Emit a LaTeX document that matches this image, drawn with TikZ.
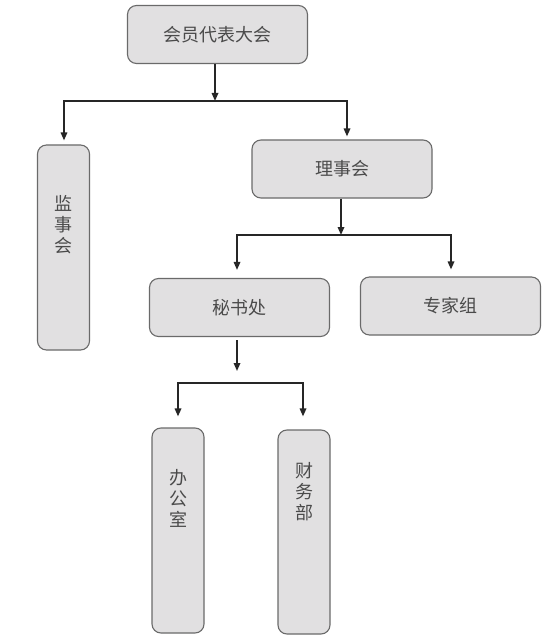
\documentclass[tikz,border=0pt]{standalone}
\usepackage{fontspec}
\newfontfamily\cjk{Noto Sans CJK SC}
\usetikzlibrary{arrows.meta}

\definecolor{boxfill}{HTML}{E1E0E1}
\definecolor{boxline}{HTML}{6A6A6A}
\definecolor{textgray}{HTML}{4A4A4A}

\tikzset{
  unit/.style={draw=boxline, fill=boxfill, rounded corners=9pt, line width=1.1pt,
    text=textgray, font=\cjk\fontsize{18}{21}\selectfont, inner sep=0pt},
  wide/.style={unit, minimum width=180pt, minimum height=58pt},
  tall/.style={unit, minimum width=52pt},
  link/.style={line width=1.6pt, draw=black!85},
  arrow/.style={link, -{Triangle[length=8pt,width=6.5pt]}},
}

\begin{document}
\begin{tikzpicture}[x=1pt, y=-1pt]

  \newcommand\vtxt[3]{\parbox[c][#2][t]{24pt}{\centering\vspace*{#1}#3}}

  \useasboundingbox (0,0) rectangle (550,639);

  %% boxes
  \node[wide] (dbdh) at (217.5,34.5) {会员代表大会};
  \node[tall] (jsh) at (63.5,247.5) {\vtxt{50pt}{205pt}{监\\事\\会}};
  \node[wide] (lsh) at (342,169) {理事会};
  \node[wide] (msc) at (239.5,307.5) {秘书处};
  \node[wide] (zjz) at (450.5,306) {专家组};
  \node[tall] (bgs) at (178,530.5) {\vtxt{41pt}{205pt}{办\\公\\室}};
  \node[tall] (cwb) at (304,532) {\vtxt{32pt}{204pt}{财\\务\\部}};

  %% level 1
  \coordinate (b1) at (215,101);
  \coordinate (b1l) at (64,101);
  \coordinate (b1r) at (347,101);
  \draw[arrow] (dbdh.south -| b1) -- (b1);
  \draw[arrow, shorten >=4pt] (b1r) -- (b1l) -- (b1l |- jsh.north); % -> jsh
  \draw[arrow, shorten >=3pt] (b1l) -- (b1r) -- (b1r |- lsh.north); % -> lsh

  %% level 2
  \coordinate (b2) at (341,235);
  \coordinate (b2l) at (237,235);
  \coordinate (b2r) at (451,235);
  \draw[arrow] (lsh.south -| b2) -- (b2);
  \draw[arrow, shorten >=8pt] (b2r) -- (b2l) -- (b2l |- msc.north); % -> msc
  \draw[arrow, shorten >=7pt] (b2l) -- (b2r) -- (b2r |- zjz.north); % -> zjz

  %% level 3
  \coordinate (b3) at (237,383);
  \coordinate (b3l) at (178,383);
  \coordinate (b3r) at (303,383);
  \draw[arrow, shorten <=3pt, shorten >=12pt] (msc.south -| b3) -- (b3);
  \draw[arrow, shorten >=11pt] (b3r) -- (b3l) -- (b3l |- bgs.north); % -> bgs
  \draw[arrow, shorten >=13pt] (b3l) -- (b3r) -- (b3r |- cwb.north); % -> cwb

\end{tikzpicture}
\end{document}
